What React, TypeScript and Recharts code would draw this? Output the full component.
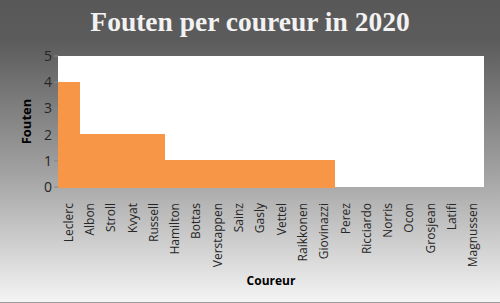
import { BarChart, Bar, XAxis, YAxis, CartesianGrid, Label } from "recharts";

const drivers = [
  "Leclerc", "Albon", "Stroll", "Kvyat", "Russell", "Hamilton", "Bottas",
  "Verstappen", "Sainz", "Gasly", "Vettel", "Raikkonen", "Giovinazzi",
  "Perez", "Ricciardo", "Norris", "Ocon", "Grosjean", "Latifi", "Magnussen",
];
const mistakes = [4, 2, 2, 2, 2, 1, 1, 1, 1, 1, 1, 1, 1, 0, 0, 0, 0, 0, 0, 0];
const yTicks = [0, 1, 2, 3, 4, 5];

const data = drivers.map((name, i) => ({ name, fouten: mistakes[i] }));

const FONT = "'Open Sans', sans-serif";

const XTick = (props: any) => {
  const { x, y, payload } = props;
  return (
    <text
      x={x}
      y={y}
      transform={`rotate(-90, ${x}, ${y})`}
      dx={-8}
      dy={4}
      textAnchor="end"
      fontSize={12}
      fontFamily={FONT}
      fill="#262626"
    >
      {payload.value}
    </text>
  );
};

const App = () => {
  return (
    <div
      style={{
        position: "absolute",
        left: 0,
        top: 0,
        width: 500,
        height: 302,
        borderBottom: "1px solid #9a9a9a",
        background: "linear-gradient(to bottom, #585858 0%, #5c5c5c 14%, #a3a3a3 58%, #f4f4f4 100%)",
      }}
    >
      <div
        style={{
          position: "absolute",
          top: 6,
          width: 500,
          textAlign: "center",
          fontFamily: "'Liberation Serif', serif",
          fontWeight: "bold",
          fontSize: 27.5,
          color: "#f2f2f2",
        }}
      >
        Fouten per coureur in 2020
      </div>
      <BarChart
        width={500}
        height={303}
        data={data}
        margin={{ top: 56, right: 16, left: 0, bottom: 0 }}
        barCategoryGap={0}
      >
        <CartesianGrid
          fill="#ffffff"
          horizontal={false}
          vertical={false}
          style={{ filter: "drop-shadow(1px 1px 1px rgba(0,0,0,0.35))" }}
        />
        <XAxis
          dataKey="name"
          interval={0}
          height={116}
          tick={<XTick />}
          tickLine={false}
          axisLine={false}
        >
          <Label
            value="Coureur"
            position="insideBottom"
            offset={18}
            style={{ fontFamily: FONT, fontWeight: "bold", fontSize: 12, fill: "#000" }}
          />
        </XAxis>
        <YAxis
          width={58}
          domain={[0, 5]}
          ticks={yTicks}
          tickLine={{ stroke: "#888" }}
          tickSize={4}
          axisLine={false}
          tick={{ fontFamily: FONT, fontSize: 14, fill: "#262626" }}
        >
          <Label
            value="Fouten"
            angle={-90}
            position="insideLeft"
            offset={26}
            style={{ fontFamily: FONT, fontWeight: "bold", fontSize: 13, fill: "#000", textAnchor: "middle" }}
          />
        </YAxis>
        <Bar
          dataKey="fouten"
          fill="#F79646"
          stroke="#F79646"
          strokeWidth={1}
          shapeRendering="crispEdges"
          isAnimationActive={false}
        />
      </BarChart>
    </div>
  );
};

export default App;
